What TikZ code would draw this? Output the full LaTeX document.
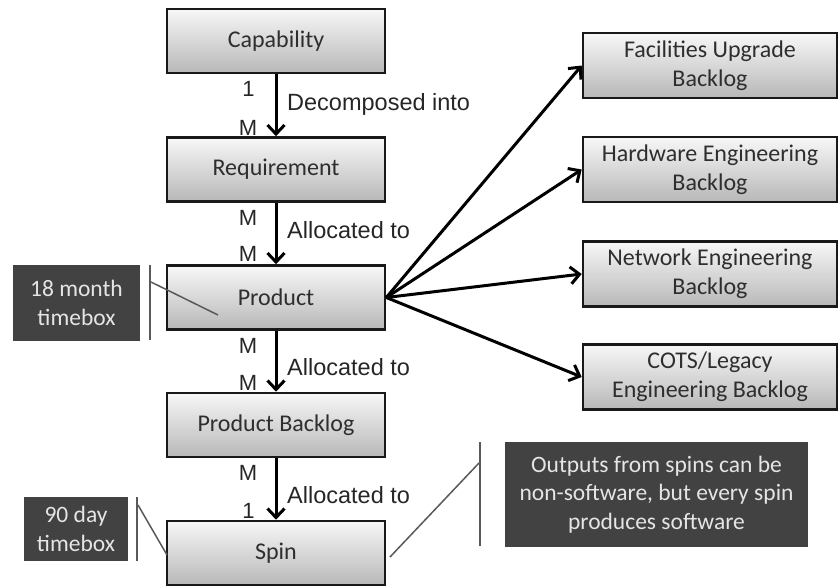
\documentclass[tikz,border=0pt]{standalone}
\usepackage{fontspec}
\setmainfont{Carlito}
\newfontfamily\labelfont{Liberation Sans}
\usetikzlibrary{arrows.meta}

\begin{document}
\begin{tikzpicture}[x=1pt,y=-1pt,
  entity/.style={draw=black!90, line width=2.6pt, top color=black!3, bottom color=black!28,
    minimum width=218pt, minimum height=64pt, inner sep=0pt, align=center,
    text=black!82, font=\fontsize{24}{29}\selectfont},
  backlog/.style={entity, minimum width=254pt, minimum height=65pt},
  note/.style={fill=black!74, text=black!10, inner sep=0pt, align=center,
    font=\fontsize{23.5}{28.5}\selectfont},
  flow/.style={line width=3pt, -{Straight Barb[length=9pt,width=17pt]}},
  card/.style={inner sep=0pt, anchor=base, text=black!85, font=\labelfont\fontsize{22}{26}\selectfont},
  rel/.style={inner sep=0pt, anchor=base west, text=black!85, font=\labelfont\fontsize{23.5}{28}\selectfont},
  bracket/.style={draw=black!65, line width=1.5pt}
]
\useasboundingbox (0,0) rectangle (838,586);

% main chain
\node[entity] (cap)  at (276,41)    {Capability};
\node[entity] (req)  at (276,169.5) {Requirement};
\node[entity] (prod) at (276,297.5) {Product};
\node[entity] (pb)   at (276,425)   {Product Backlog};
\node[entity] (spin) at (276,553)   {Spin};

% backlogs fed by the product
\node[backlog] (fac)  at (710,65.5) {Facilities Upgrade\\Backlog};
\node[backlog] (hw)   at (710,169.5) {Hardware Engineering\\Backlog};
\node[backlog] (net)  at (710,274)  {Network Engineering\\Backlog};
\node[backlog] (cots) at (710,377)  {COTS/Legacy\\Engineering Backlog};

% vertical relations
\draw[flow] (cap)  -- (req);
\draw[flow] (req)  -- (prod);
\draw[flow] (prod) -- (pb);
\draw[flow] (pb)   -- (spin);

% fan-out from the product
\draw[flow] (prod.east) -- (fac.west);
\draw[flow] (prod.east) -- (hw.west);
\draw[flow] (prod.east) -- (net.west);
\draw[flow] (prod.east) -- (cots.west);

% multiplicities and relation names
\node[card] (m1a) at (248.5,96.5)  {1};
\node[card] (m1b) at (248,135.5)   {M};
\node[rel]  (r1)  at (287,110.5)   {Decomposed into};

\node[card] (m2a) at (248,225.5)   {M};
\node[card] (m2b) at (248,261.5)   {M};
\node[rel]  (r2)  at (287,238.5)   {Allocated to};

\node[card] (m3a) at (248,353.5)   {M};
\node[card] (m3b) at (248,390.5)   {M};
\node[rel]  (r3)  at (287,375.5)   {Allocated to};

\node[card] (m4a) at (248,480.5)   {M};
\node[card] (m4b) at (248.5,518.5) {1};
\node[rel]  (r4)  at (287,503.5)   {Allocated to};

% callouts
\node[note, minimum width=127pt, minimum height=76pt] (n1) at (76.5,303) {18 month\\timebox};
\node[note, minimum width=104pt, minimum height=64pt] (n2) at (76,529) {90 day\\timebox};
\node[note, minimum width=303pt, minimum height=105pt] (n3) at (656.5,494.5)
  {Outputs from spins can be\\non-software, but every spin\\produces software};

\coordinate (k1t) at (150,265);
\coordinate (k1b) at (150,340);
\coordinate (k1s) at (151,282);
\coordinate (k1e) at (218,315);
\draw[bracket] (k1t) -- (k1b);
\draw[bracket] (k1s) -- (k1e);

\coordinate (k2t) at (137,497);
\coordinate (k2b) at (137,561);
\coordinate (k2s) at (138,505);
\coordinate (k2e) at (167,555);
\draw[bracket] (k2t) -- (k2b);
\draw[bracket] (k2s) -- (k2e);

\coordinate (k3t) at (480,442);
\coordinate (k3b) at (480,546);
\coordinate (k3s) at (479,463);
\coordinate (k3e) at (390,557);
\draw[bracket] (k3t) -- (k3b);
\draw[bracket] (k3s) -- (k3e);
\end{tikzpicture}
\end{document}
